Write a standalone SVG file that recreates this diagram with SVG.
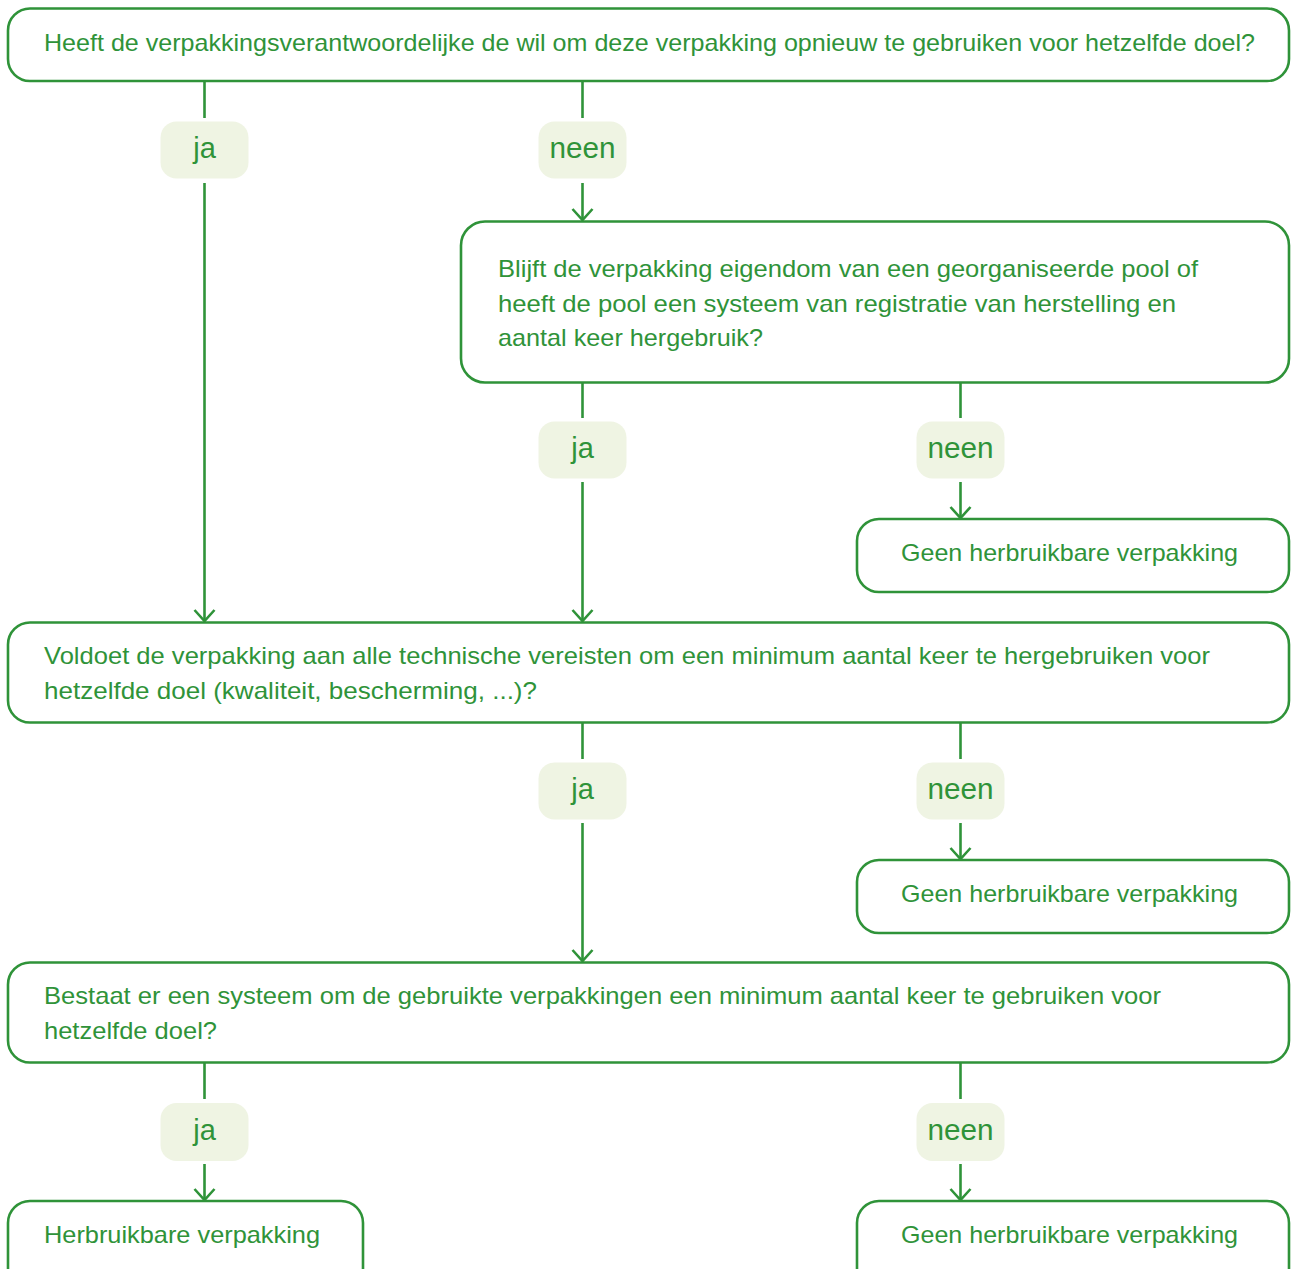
<svg xmlns="http://www.w3.org/2000/svg" width="1292" height="1269" viewBox="0 0 1292 1269">
<style>
.box{fill:#ffffff;stroke:#2f9339;stroke-width:2.6}
.lbl{fill:#eff4e3;stroke:none}
.t{font-family:"Liberation Sans",Arial,sans-serif;font-size:24px;fill:#2f9339}
.lt{font-family:"Liberation Sans",Arial,sans-serif;font-size:29px;fill:#2f9339;text-anchor:middle}
.c{fill:none;stroke:#2f9339;stroke-width:2.6}
</style>
<defs>
<marker id="arr" markerUnits="userSpaceOnUse" markerWidth="30" markerHeight="30" viewBox="-15 -15 30 30" refX="0" refY="0" orient="auto">
<path d="M -11 -10 L 0 0 L -11 10" fill="none" stroke="#2f9339" stroke-width="2.6"/>
</marker>
</defs>
<rect width="1292" height="1269" fill="#ffffff"/>
<g id="connectors">
<path class="c" d="M204.5 81 V118"/><path class="c" d="M204.5 183 V621" marker-end="url(#arr)"/>
<path class="c" d="M582.5 81 V118"/><path class="c" d="M582.5 183 V220" marker-end="url(#arr)"/>
<path class="c" d="M582.5 382 V418"/><path class="c" d="M582.5 482 V621" marker-end="url(#arr)"/>
<path class="c" d="M960.5 382 V418"/><path class="c" d="M960.5 482 V518" marker-end="url(#arr)"/>
<path class="c" d="M582.5 722 V759"/><path class="c" d="M582.5 823 V961" marker-end="url(#arr)"/>
<path class="c" d="M960.5 722 V759"/><path class="c" d="M960.5 823 V859" marker-end="url(#arr)"/>
<path class="c" d="M204.5 1062 V1099"/><path class="c" d="M204.5 1164 V1200" marker-end="url(#arr)"/>
<path class="c" d="M960.5 1062 V1099"/><path class="c" d="M960.5 1164 V1200" marker-end="url(#arr)"/>
</g>
<g id="labels">
<g id="l1"><rect class="lbl" x="160.5" y="121.5" width="88" height="57" rx="16"/><text class="lt" x="204.5" y="158">ja</text></g>
<g id="l2"><rect class="lbl" x="538.5" y="121.5" width="88" height="57" rx="16"/><text class="lt" x="582.5" y="158" textLength="66" lengthAdjust="spacingAndGlyphs">neen</text></g>
<g id="l3"><rect class="lbl" x="538.5" y="421.5" width="88" height="57" rx="16"/><text class="lt" x="582.5" y="458">ja</text></g>
<g id="l4"><rect class="lbl" x="916.5" y="421.5" width="88" height="57" rx="16"/><text class="lt" x="960.5" y="458" textLength="66" lengthAdjust="spacingAndGlyphs">neen</text></g>
<g id="l5"><rect class="lbl" x="538.5" y="762.5" width="88" height="57" rx="16"/><text class="lt" x="582.5" y="799">ja</text></g>
<g id="l6"><rect class="lbl" x="916.5" y="762.5" width="88" height="57" rx="16"/><text class="lt" x="960.5" y="799" textLength="66" lengthAdjust="spacingAndGlyphs">neen</text></g>
<g id="l7"><rect class="lbl" x="160.5" y="1103" width="88" height="58" rx="16"/><text class="lt" x="204.5" y="1140">ja</text></g>
<g id="l8"><rect class="lbl" x="916.5" y="1103" width="88" height="58" rx="16"/><text class="lt" x="960.5" y="1140" textLength="66" lengthAdjust="spacingAndGlyphs">neen</text></g>
</g>
<g id="q1"><rect class="box" x="8" y="8.5" width="1281" height="72.5" rx="22"/><text class="t" x="44" y="51" textLength="1211" lengthAdjust="spacingAndGlyphs">Heeft de verpakkingsverantwoordelijke de wil om deze verpakking opnieuw te gebruiken voor hetzelfde doel?</text></g>
<g id="q2"><rect class="box" x="461" y="221.5" width="828" height="161" rx="24"/>
<text class="t" x="498" y="277" textLength="700" lengthAdjust="spacingAndGlyphs">Blijft de verpakking eigendom van een georganiseerde pool of</text>
<text class="t" x="498" y="311.5" textLength="678" lengthAdjust="spacingAndGlyphs">heeft de pool een systeem van registratie van herstelling en</text>
<text class="t" x="498" y="346" textLength="265" lengthAdjust="spacingAndGlyphs">aantal keer hergebruik?</text></g>
<g id="r1"><rect class="box" x="857" y="519" width="432" height="73" rx="22"/><text class="t" x="901" y="561" textLength="337" lengthAdjust="spacingAndGlyphs">Geen herbruikbare verpakking</text></g>
<g id="q3"><rect class="box" x="8" y="622.5" width="1281" height="100" rx="22"/>
<text class="t" x="44" y="664" textLength="1166" lengthAdjust="spacingAndGlyphs">Voldoet de verpakking aan alle technische vereisten om een minimum aantal keer te hergebruiken voor</text>
<text class="t" x="44" y="699" textLength="493" lengthAdjust="spacingAndGlyphs">hetzelfde doel (kwaliteit, bescherming, ...)?</text></g>
<g id="r2"><rect class="box" x="857" y="860" width="432" height="73" rx="22"/><text class="t" x="901" y="902" textLength="337" lengthAdjust="spacingAndGlyphs">Geen herbruikbare verpakking</text></g>
<g id="q4"><rect class="box" x="8" y="962.5" width="1281" height="100" rx="22"/>
<text class="t" x="44" y="1004" textLength="1117" lengthAdjust="spacingAndGlyphs">Bestaat er een systeem om de gebruikte verpakkingen een minimum aantal keer te gebruiken voor</text>
<text class="t" x="44" y="1039" textLength="173" lengthAdjust="spacingAndGlyphs">hetzelfde doel?</text></g>
<g id="r3"><rect class="box" x="8" y="1201" width="355" height="90" rx="22"/><text class="t" x="44" y="1243" textLength="276" lengthAdjust="spacingAndGlyphs">Herbruikbare verpakking</text></g>
<g id="r4"><rect class="box" x="857" y="1201" width="432" height="90" rx="22"/><text class="t" x="901" y="1243" textLength="337" lengthAdjust="spacingAndGlyphs">Geen herbruikbare verpakking</text></g>
</svg>
